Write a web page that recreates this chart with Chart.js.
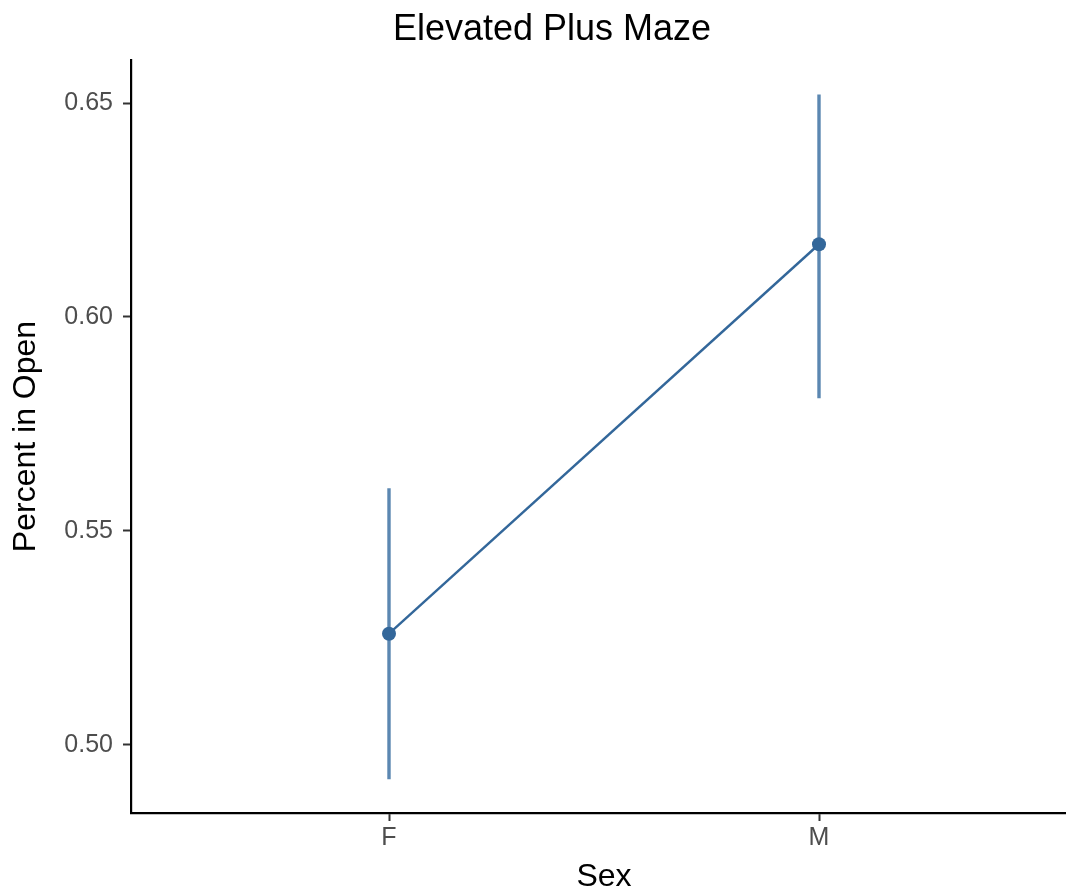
<!DOCTYPE html>
<html>
<head>
<meta charset="utf-8">
<title>Elevated Plus Maze</title>
<script src="https://cdn.jsdelivr.net/npm/chart.js@4/dist/chart.umd.min.js"></script>
<style>
  html, body { margin: 0; padding: 0; background: #ffffff; overflow: hidden; }
  #frame { width: 1066px; height: 895px; overflow: hidden; position: relative; }
  #plot { display: block; }
</style>
</head>
<body>
<div id="frame"><canvas id="plot" width="1104" height="895"></canvas></div>
<script>
// Group labels and their positions on the categorical axis
const categories = ['F', 'M'];
const categoryPos = [0, 1];

// Mean proportion of time spent in the open arms, with interval bounds
const meanOpen = [0.526, 0.617];
const lowerOpen = [0.492, 0.581];
const upperOpen = [0.560, 0.652];

// Y-axis tick values
const yTicks = [0.50, 0.55, 0.60, 0.65];

const FONT = '"Liberation Sans", Arial, Helvetica, sans-serif';
const POINT_COLOR = '#33679a';
const BAR_COLOR = '#5b87b1';

// Vertical interval bars drawn with the chart's own scales
const intervalBars = {
  id: 'intervalBars',
  beforeDatasetsDraw(chart) {
    const { ctx, scales: { x, y } } = chart;
    ctx.save();
    ctx.strokeStyle = BAR_COLOR;
    ctx.lineWidth = 3.4;
    ctx.lineCap = 'butt';
    for (let i = 0; i < categoryPos.length; i++) {
      const px = x.getPixelForValue(categoryPos[i]);
      ctx.beginPath();
      ctx.moveTo(px, y.getPixelForValue(lowerOpen[i]));
      ctx.lineTo(px, y.getPixelForValue(upperOpen[i]));
      ctx.stroke();
    }
    ctx.restore();
  }
};

// Center the main title across the full canvas width
const wideTitle = {
  id: 'wideTitle',
  afterLayout(chart) {
    if (chart.titleBlock) {
      chart.titleBlock.left = 0;
      chart.titleBlock.right = chart.width;
    }
  }
};

new Chart(document.getElementById('plot'), {
  type: 'line',
  data: {
    datasets: [{
      data: categoryPos.map((p, i) => ({ x: p, y: meanOpen[i] })),
      borderColor: POINT_COLOR,
      backgroundColor: POINT_COLOR,
      borderWidth: 2.4,
      pointRadius: 7,
      pointBorderWidth: 0,
      pointBackgroundColor: POINT_COLOR,
      tension: 0,
      fill: false
    }]
  },
  options: {
    responsive: false,
    animation: false,
    devicePixelRatio: 1,
    layout: { padding: { left: 0, right: 27, top: 0, bottom: 0 } },
    plugins: {
      legend: { display: false },
      tooltip: { enabled: false },
      title: {
        display: true,
        text: 'Elevated Plus Maze',
        color: '#000000',
        font: { family: FONT, size: 36, weight: 'normal', lineHeight: 1.2 },
        padding: { top: 8, bottom: 8.8 }
      }
    },
    scales: {
      x: {
        type: 'linear',
        min: -0.6,
        max: 1.6,
        afterBuildTicks(scale) { scale.ticks = categoryPos.map(v => ({ value: v })); },
        afterFit(scale) { scale.height = 82; },
        ticks: {
          autoSkip: false,
          maxRotation: 0,
          padding: 2,
          color: '#4d4d4d',
          font: { family: FONT, size: 25 },
          callback: (v) => categories[categoryPos.indexOf(v)]
        },
        grid: {
          drawOnChartArea: false,
          drawTicks: true,
          tickLength: 8,
          tickWidth: 2,
          tickColor: '#333333'
        },
        border: { display: true, color: '#000000', width: 2.2 },
        title: {
          display: true,
          text: 'Sex',
          color: '#000000',
          font: { family: FONT, size: 32, lineHeight: 1.2 },
          padding: { top: 0, bottom: -1 }
        }
      },
      y: {
        type: 'linear',
        min: 0.4841,
        max: 0.66005,
        afterBuildTicks(scale) { scale.ticks = yTicks.map(v => ({ value: v })); },
        afterFit(scale) { scale.width = 131; },
        ticks: {
          padding: 10,
          color: '#4d4d4d',
          font: { family: FONT, size: 25 },
          callback: (v) => Number(v).toFixed(2)
        },
        grid: {
          drawOnChartArea: false,
          drawTicks: true,
          tickLength: 8,
          tickWidth: 2,
          tickColor: '#333333'
        },
        border: { display: true, color: '#000000', width: 2.2 },
        title: {
          display: true,
          text: 'Percent in Open',
          color: '#000000',
          font: { family: FONT, size: 32, lineHeight: 1.2 },
          padding: { top: 7, bottom: 0 }
        }
      }
    }
  },
  plugins: [intervalBars, wideTitle]
});
</script>
</body>
</html>
